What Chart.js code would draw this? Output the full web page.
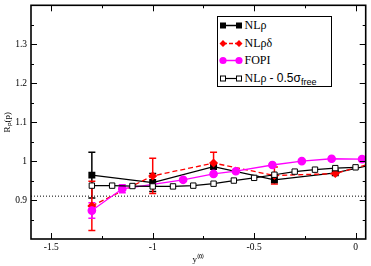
<!DOCTYPE html>
<html><head><meta charset="utf-8">
<script src="https://cdn.jsdelivr.net/npm/chart.js@4.4.1/dist/chart.umd.min.js"></script>
<style>
html,body{margin:0;padding:0;background:#fff}
#wrap{position:relative;width:371px;height:266px}
#lg{position:absolute;left:217px;top:16px;width:113px;height:69px;border:1.5px solid #000;background:#fff;font:12px "Liberation Serif",serif;color:#000}
.row{position:absolute;left:0;height:17px;line-height:17px;white-space:nowrap}
.row svg{position:absolute;left:1px;top:3px}
.row .t{position:absolute;left:26.5px}
.sans{font-family:"Liberation Sans",Arial,sans-serif}
sub{font-size:9px;vertical-align:-3px;line-height:0}
</style></head>
<body>
<div id="wrap">
<canvas id="c" width="371" height="266"></canvas>
<div id="lg">
 <div class="row" style="top:0"><svg width="24" height="11"><line x1="4" y1="5.5" x2="20" y2="5.5" stroke="#000" stroke-width="1.5"/><rect x="1" y="2.5" width="6" height="6" fill="#000"/><rect x="17" y="2.5" width="6" height="6" fill="#000"/></svg><span class="t">NLρ</span></div>
 <div class="row" style="top:17.5px"><svg width="24" height="11"><line x1="4" y1="5.5" x2="20" y2="5.5" stroke="#f00" stroke-width="1.5" stroke-dasharray="4,2"/><path d="M4 2 L7.5 5.5 L4 9 L0.5 5.5Z M20 2 L23.5 5.5 L20 9 L16.5 5.5Z" fill="#f00"/></svg><span class="t">NLρδ</span></div>
 <div class="row" style="top:35px"><svg width="24" height="11"><line x1="4" y1="5.5" x2="20" y2="5.5" stroke="#f0f" stroke-width="1.5"/><circle cx="4" cy="5.5" r="3.6" fill="#f0f"/><circle cx="20" cy="5.5" r="3.6" fill="#f0f"/></svg><span class="t">FOPI</span></div>
 <div class="row" style="top:52.5px"><svg width="24" height="11"><line x1="4" y1="5.5" x2="20" y2="5.5" stroke="#000" stroke-width="1.2"/><rect x="1.5" y="3" width="5" height="5" fill="#fff" stroke="#000" stroke-width="1"/><rect x="17.5" y="3" width="5" height="5" fill="#fff" stroke="#000" stroke-width="1"/></svg><span class="t">NLρ <span class="sans">- 0.5σ<sub>free</sub></span></span></div>
</div>
</div>
<script>
// axis ticks
const xTicks=[-1.5,-1,-0.5,0];
const yTicks=[0.9,1,1.1,1.2,1.3];
const xMinor=[-1.25,-0.75,-0.25];
const yMinor=[0.85,0.95,1.05,1.15,1.25,1.35];

// NLrho (filled squares)
const xNL=[-1.3,-1.0,-0.7,-0.4,-0.1,0.2];
const yNL=[0.964,0.945,0.986,0.952,0.970,1.004];
const eNL=[0.059,0.023,0,0,0,0];
// NLrho-delta (diamonds, dashed)
const xNLd=[-1.3,-1.0,-0.7,-0.4,-0.1,0.2];
const yNLd=[0.885,0.962,0.995,0.963,0.968,1.012];
const eNLd=[0.063,0.045,0.028,0.022,0,0];
// FOPI
const xFO=[-1.3,-1.15,-0.85,-0.7,-0.59,-0.41,-0.265,-0.118,0.032];
const yFO=[0.873,0.929,0.952,0.967,0.974,0.990,1.000,1.006,1.005];
const eFO=[0.02,0.01,0,0,0,0,0,0,0];
// NLrho - 0.5 sigma_free (open squares)
const xOp=[-1.3,-1.2,-1.1,-1.0,-0.9,-0.8,-0.7,-0.6,-0.5,-0.4,-0.3,-0.2,-0.1,0.0];
const yOp=[0.937,0.937,0.936,0.935,0.935,0.937,0.942,0.950,0.957,0.965,0.973,0.978,0.982,0.984];
// dotted reference line
const xRef=[-1.6,0.05];
const yRef=[0.91,0.91];

const pts=(xs,ys)=>xs.map((x,i)=>({x,y:ys[i]}));

const errorBars={id:'errorBars',beforeDatasetsDraw(c){
  const {ctx,scales:{x,y},chartArea:a}=c;
  ctx.save(); ctx.beginPath(); ctx.rect(a.left,a.top,a.right-a.left,a.bottom-a.top); ctx.clip();
  c.data.datasets.forEach(ds=>{
    if(!ds.err) return;
    ctx.strokeStyle=ds.borderColor; ctx.lineWidth=1.5; ctx.setLineDash([]);
    ds.data.forEach((p,i)=>{
      const e=ds.err[i]; if(!e) return;
      const px=x.getPixelForValue(p.x), y1=y.getPixelForValue(p.y+e), y2=y.getPixelForValue(p.y-e);
      ctx.beginPath();
      ctx.moveTo(px,y1);ctx.lineTo(px,y2);
      ctx.moveTo(px-3.5,y1);ctx.lineTo(px+3.5,y1);
      ctx.moveTo(px-3.5,y2);ctx.lineTo(px+3.5,y2);
      ctx.stroke();
    });
  });
  ctx.restore();
}};

// frame + inward ticks on all four sides
const frame={id:'frame',afterDatasetsDraw(c){
  const {ctx,scales:{x,y},chartArea:a}=c;
  ctx.save(); ctx.strokeStyle='#000'; ctx.setLineDash([]);
  ctx.lineWidth=1;
  const tx=(v,len)=>{const p=Math.round(x.getPixelForValue(v))+0.5;
    ctx.moveTo(p,a.bottom);ctx.lineTo(p,a.bottom-len);ctx.moveTo(p,a.top);ctx.lineTo(p,a.top+len);};
  const ty=(v,len)=>{const p=Math.round(y.getPixelForValue(v))+0.5;
    ctx.moveTo(a.left,p);ctx.lineTo(a.left+len,p);ctx.moveTo(a.right,p);ctx.lineTo(a.right-len,p);};
  ctx.beginPath();
  xTicks.forEach(v=>tx(v,6)); xMinor.forEach(v=>tx(v,3));
  yTicks.forEach(v=>ty(v,6)); yMinor.forEach(v=>ty(v,3));
  ctx.stroke();
  ctx.lineWidth=1.6;
  ctx.strokeRect(a.left,a.top,a.right-a.left,a.bottom-a.top);
  ctx.restore();
}};

const tickFont={family:'"Liberation Serif", serif',size:9.5};

new Chart(document.getElementById('c'),{
  type:'line',
  data:{datasets:[
    {data:pts(xRef,yRef),borderColor:'#000',borderWidth:1,borderDash:[1,2],pointRadius:0,order:5},
    {data:pts(xNL,yNL),err:eNL,borderColor:'#000',backgroundColor:'#000',borderWidth:1.3,pointStyle:'rect',pointRadius:4,order:4},
    {data:pts(xNLd,yNLd),err:eNLd,borderColor:'#f00',backgroundColor:'#f00',borderWidth:1.3,borderDash:[5,3],pointStyle:'rectRot',pointRadius:3.6,order:3},
    {data:pts(xFO,yFO),err:eFO,borderColor:'#f0f',backgroundColor:'#f0f',borderWidth:1.3,pointStyle:'circle',pointRadius:3.7,order:2},
    {data:pts(xOp,yOp),borderColor:'#000',backgroundColor:'#fff',borderWidth:1.2,pointBorderWidth:1,pointStyle:'rect',pointRadius:3.8,order:1}
  ]},
  options:{
    responsive:false,animation:false,
    layout:{padding:{left:0,right:2,top:1,bottom:0}},
    plugins:{legend:{display:false},tooltip:{enabled:false}},
    elements:{line:{tension:0}},
    scales:{
      x:{type:'linear',min:-1.6,max:0.05,
        grid:{display:false,drawTicks:false},border:{display:false},
        afterBuildTicks:s=>{s.ticks=xTicks.map(v=>({value:v}));},
        afterFit:s=>{s.height=27;s.paddingLeft=0;s.paddingRight=0;},
        ticks:{font:tickFont,color:'#000',padding:3,maxRotation:0,autoSkip:false,callback:v=>String(v)},
        title:{display:true,text:'y⁽⁰⁾',font:{family:'"Liberation Serif", serif',size:9},color:'#000',padding:{top:0,bottom:1}}},
      y:{type:'linear',min:0.8,max:1.4,
        grid:{display:false,drawTicks:false},border:{display:false},
        afterBuildTicks:s=>{s.ticks=yTicks.map(v=>({value:v}));},
        afterFit:s=>{s.width=31;s.paddingTop=0;s.paddingBottom=0;},
        ticks:{font:tickFont,color:'#000',padding:4,autoSkip:false,callback:v=>String(v)},
        title:{display:true,text:'Rₚ(p)',font:{family:'"Liberation Serif", serif',size:9},color:'#000',padding:{top:2,bottom:0}}}
    }
  },
  plugins:[errorBars,frame]
});
</script>
</body></html>
